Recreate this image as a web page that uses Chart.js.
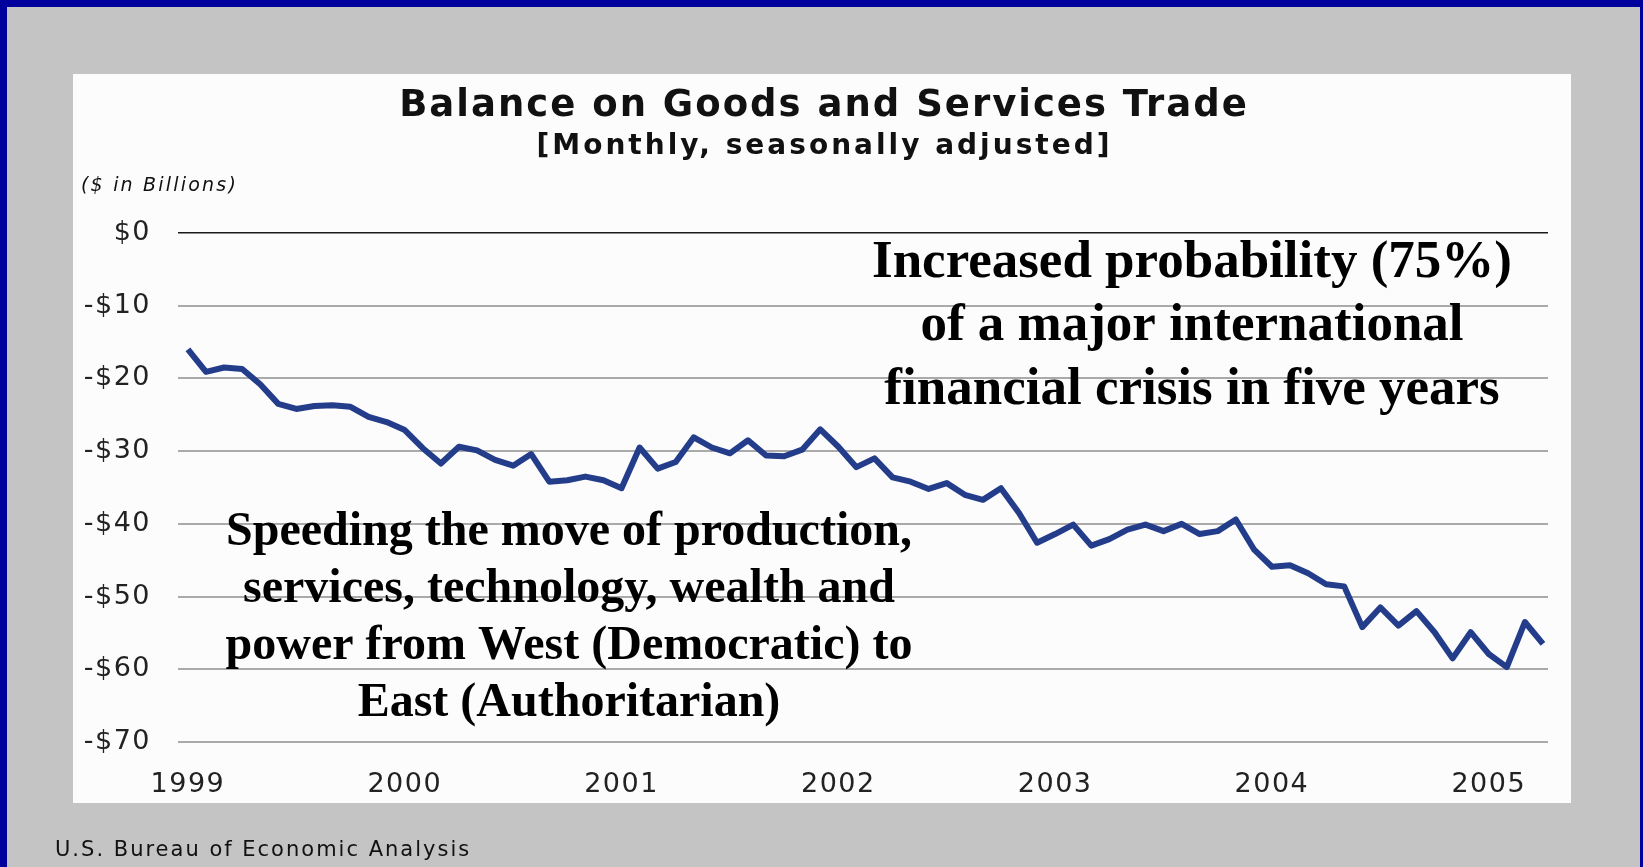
<!DOCTYPE html>
<html>
  <head>
    <title>Balance on Goods and Services Trade</title>
    <style>
      body {
        margin: 0;
        padding: 0;
        background-color: #00009c;
      }
      canvas {
        display: block;
      }
    </style>
    <script src="https://cdn.jsdelivr.net/npm/chart.js"></script>
  </head>
  <body>
    <canvas id="tradeChart" width="1643" height="867"></canvas>
    <script>
      // monthly balance on goods and services, Jan 1999 - Apr 2005 ($ billions)
      const balance = [
        -16.0, -19.1, -18.5, -18.7, -20.8, -23.5, -24.2, -23.8, -23.7, -23.9, -25.3, -26.0,
        -27.1, -29.6, -31.7, -29.4, -29.9, -31.2, -32.0, -30.4, -34.2, -34.0, -33.5, -34.0,
        -35.1, -29.5, -32.4, -31.5, -28.1, -29.5, -30.3, -28.5, -30.6, -30.7, -29.8, -27.0,
        -29.4, -32.2, -31.0, -33.6, -34.2, -35.2, -34.4, -36.0, -36.7, -35.1, -38.5, -42.6,
        -41.4, -40.1, -43.0, -42.1, -40.8, -40.1, -41.0, -40.0, -41.4, -41.0, -39.4, -43.5,
        -45.9, -45.7, -46.8, -48.3, -48.6, -54.2, -51.5, -54.0, -52.0, -54.9, -58.5, -54.9,
        -57.9, -59.7, -53.5, -56.5
      ];
      const yearLabels = ["1999", "2000", "2001", "2002", "2003", "2004", "2005"];
      const yTickLabels = ["$0", "-$10", "-$20", "-$30", "-$40", "-$50", "-$60", "-$70"];

      const rightNote = [
        "Increased probability (75%)",
        "of a major international",
        "financial crisis in five years"
      ];
      const leftNote = [
        "Speeding the move of production,",
        "services, technology, wealth and",
        "power from West (Democratic) to",
        "East (Authoritarian)"
      ];

      const points = balance.map((v, i) => ({ x: i, y: v }));

      // draw text centred on cx, ignoring the trailing letter spacing
      function spacedText(ctx, text, cx, y, spacing) {
        ctx.letterSpacing = spacing + "px";
        const w = ctx.measureText(text).width - spacing;
        ctx.textAlign = "left";
        ctx.fillText(text, cx - w / 2, y);
      }

      const backdrop = {
        id: "backdrop",
        beforeDraw(chart) {
          const ctx = chart.ctx;
          ctx.save();
          ctx.fillStyle = "#00009c";
          ctx.fillRect(0, 0, chart.width, chart.height);
          ctx.fillStyle = "#c4c4c4";
          ctx.fillRect(7, 7, chart.width - 10, chart.height - 7);
          ctx.fillStyle = "#fcfcfc";
          ctx.fillRect(73, 74, 1498, 729);
          ctx.restore();
          // tick labels use a wide, spaced look
          ctx.letterSpacing = "1.5px";
        }
      };

      const captions = {
        id: "captions",
        afterDraw(chart) {
          const ctx = chart.ctx;
          ctx.save();
          ctx.textBaseline = "middle";
          ctx.fillStyle = "#111";

          ctx.font = 'bold 37px "DejaVu Sans"';
          spacedText(ctx, "Balance on Goods and Services Trade", 823, 106, 2);
          ctx.font = 'bold 28px "DejaVu Sans"';
          spacedText(ctx, "[Monthly, seasonally adjusted]", 823, 147, 3);

          ctx.font = 'oblique 19px "DejaVu Sans"';
          ctx.letterSpacing = "2.2px";
          ctx.textAlign = "left";
          ctx.fillText("($ in Billions)", 81, 186);

          ctx.font = '21px "DejaVu Sans"';
          ctx.letterSpacing = "2px";
          ctx.fillText("U.S. Bureau of Economic Analysis", 55, 851);

          ctx.letterSpacing = "0px";
          ctx.textAlign = "center";
          ctx.fillStyle = "#000";
          ctx.font = 'bold 53px "Liberation Serif"';
          rightNote.forEach((line, k) => ctx.fillText(line, 1192, 263 + k * 63.5));
          ctx.font = 'bold 48px "Liberation Serif"';
          leftNote.forEach((line, k) => ctx.fillText(line, 569, 533 + k * 57));
          ctx.restore();
        }
      };

      new Chart(document.getElementById("tradeChart"), {
        type: "line",
        data: {
          datasets: [
            {
              data: points,
              borderColor: "#243d8b",
              borderWidth: 6,
              borderJoinStyle: "round",
              pointRadius: 0,
              tension: 0,
              fill: false
            }
          ]
        },
        options: {
          responsive: false,
          animation: false,
          layout: { padding: { left: 73, right: 95, top: 233, bottom: 64 } },
          plugins: {
            legend: { display: false },
            tooltip: { enabled: false }
          },
          scales: {
            x: {
              type: "linear",
              min: -0.55,
              max: 75.28,
              afterFit: (scale) => { scale.height = 61; },
              afterBuildTicks: (scale) => {
                scale.ticks = yearLabels.map((_, k) => ({ value: k * 12 }));
              },
              grid: { display: false, drawTicks: false },
              border: { display: false },
              ticks: {
                autoSkip: false,
                maxRotation: 0,
                padding: 27,
                color: "#222",
                font: { family: "DejaVu Sans", size: 27 },
                callback: (v) => yearLabels[Math.round(v / 12)]
              }
            },
            y: {
              min: -70,
              max: 0,
              afterFit: (scale) => { scale.width = 105; },
              grid: {
                drawTicks: false,
                color: (c) => (c.tick && c.tick.value === 0 ? "#1a1a1a" : "#aaaaaa"),
                lineWidth: (c) => (c.tick && c.tick.value === 0 ? 1.6 : 2)
              },
              border: { display: false },
              ticks: {
                stepSize: 10,
                padding: 27,
                color: "#222",
                font: { family: "DejaVu Sans", size: 27 },
                callback: (v) => yTickLabels[Math.round(-v / 10)]
              }
            }
          }
        },
        plugins: [backdrop, captions]
      });
    </script>
  </body>
</html>
